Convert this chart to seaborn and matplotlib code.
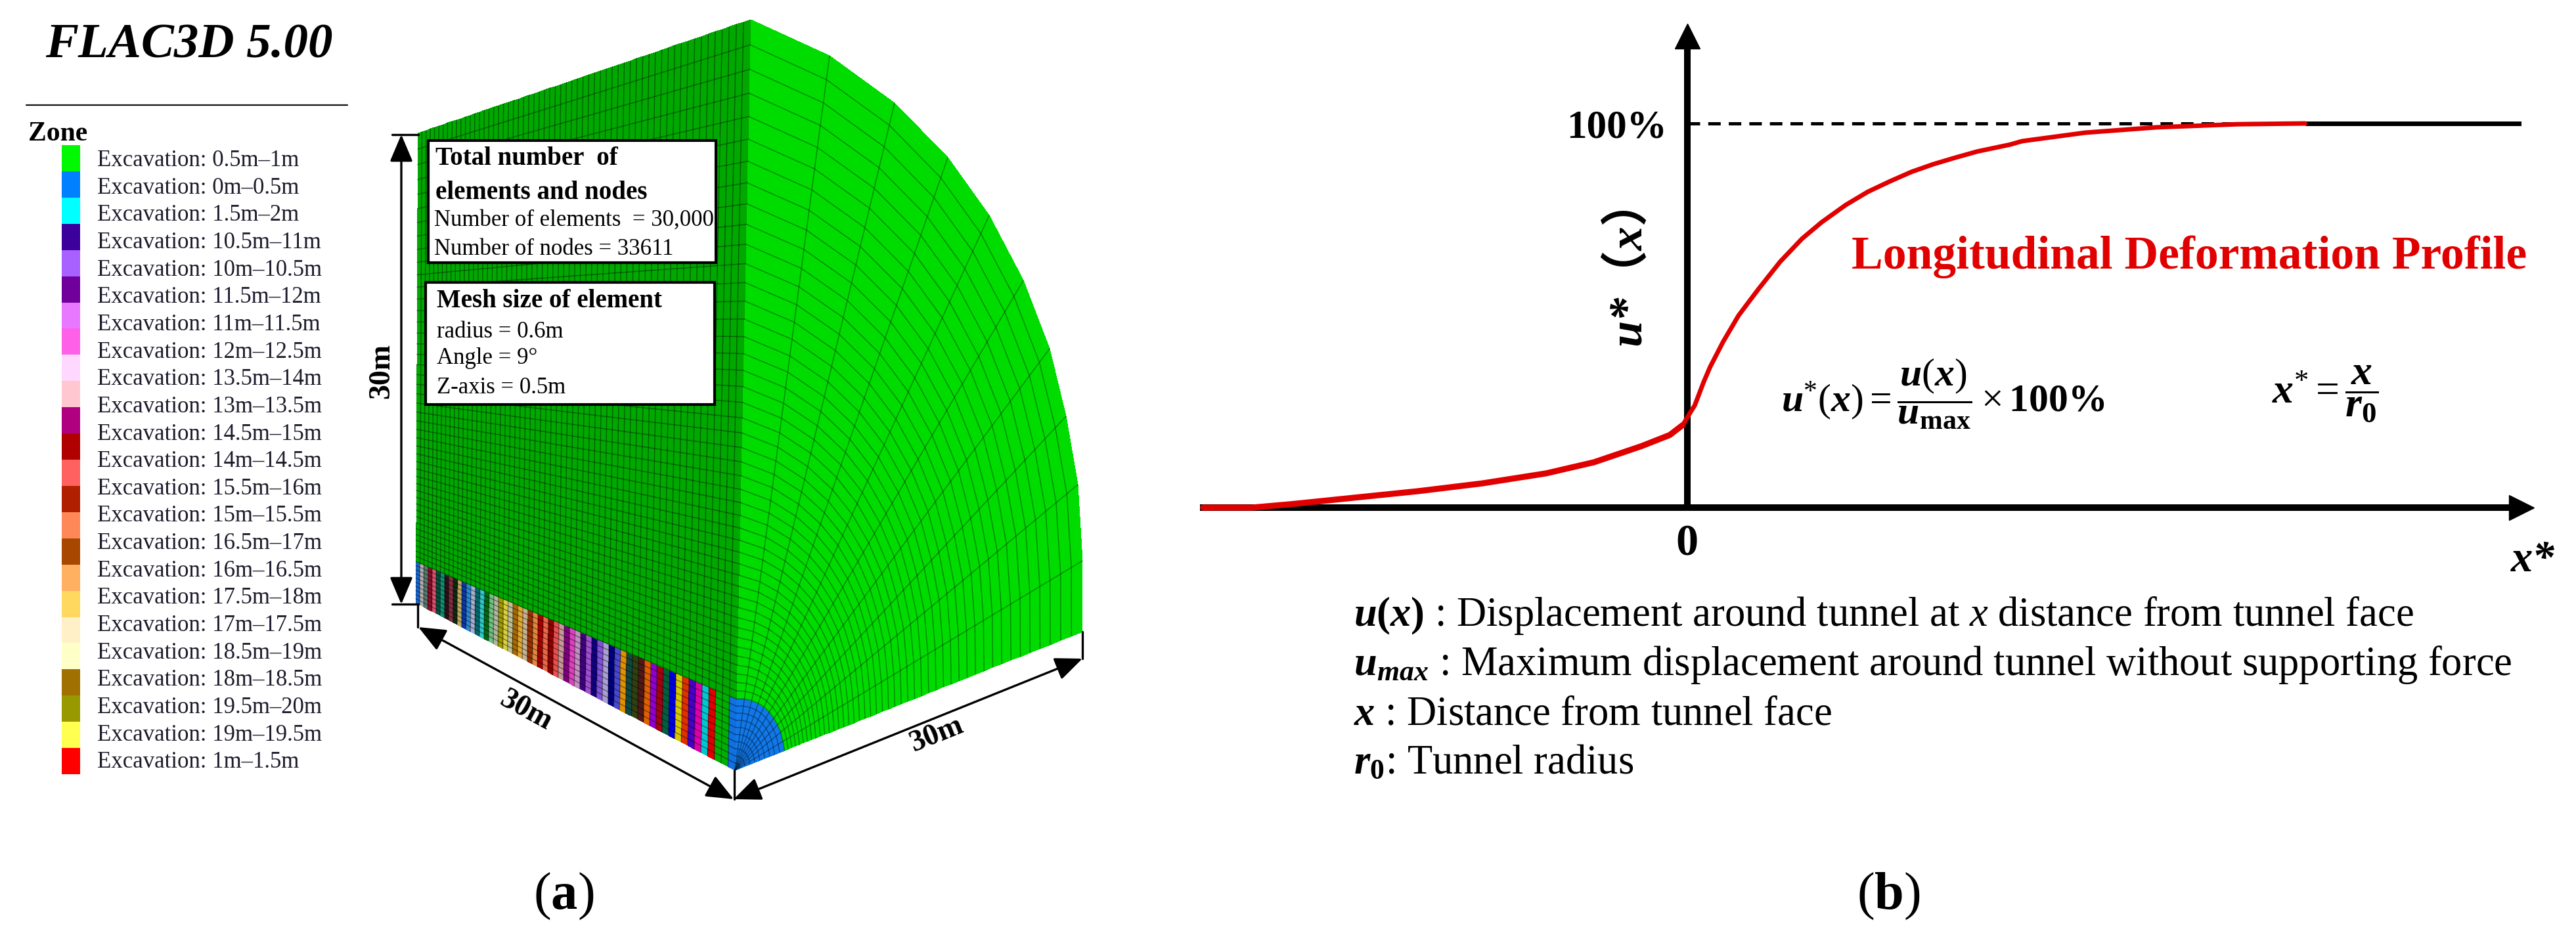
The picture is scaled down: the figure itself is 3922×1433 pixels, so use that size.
import numpy as np
import seaborn as sns
import matplotlib.pyplot as plt
from matplotlib.colors import ListedColormap

W, H = 3923, 1433

# legend of panel a
zone_colors = ['#00f800', '#0080ff', '#00ffff', '#3c009c', '#a860ff', '#70009c', '#e878ff', '#ff60e8',
               '#ffd8ff', '#ffc8d0', '#b00080', '#b00000', '#ff6060', '#b02000', '#ff8858', '#a84800',
               '#ffb060', '#ffd860', '#fff0c8', '#ffffc8', '#a07000', '#989800', '#ffff50', '#ff0000']
zone_labels = ['0.5m–1m', '0m–0.5m', '1.5m–2m', '10.5m–11m', '10m–10.5m', '11.5m–12m', '11m–11.5m', '12m–12.5m',
               '13.5m–14m', '13m–13.5m', '14.5m–15m', '14m–14.5m', '15.5m–16m', '15m–15.5m', '16.5m–17m',
               '16m–16.5m', '17.5m–18m', '17m–17.5m', '18.5m–19m', '18m–18.5m', '19.5m–20m', '19m–19.5m', '1m–1.5m']

# excavation bands along the tunnel wall, far end to tunnel face
band_colors = ['#1a66c8', '#b0b0b0', '#5a7a70', '#8a0f2a', '#e0506a', '#005040', '#109070', '#301018',
               '#803040', '#0f2a10', '#c0a860', '#0a3aa8', '#2a8ad8', '#a8b0cc', '#006a70', '#30c8c8',
               '#006a10', '#70c080', '#b0b8a0', '#a09a00', '#d8d040', '#c0c090', '#a86a00', '#e0a830',
               '#c8b090', '#983000', '#e08840', '#a80000', '#e86848', '#900000', '#e85050', '#c89898',
               '#800080', '#e040c0', '#c090c0', '#400080', '#a050d0', '#100080', '#8050d8', '#a8a0d0',
               '#000080', '#4848d0', '#e09000', '#104840', '#304010', '#501818', '#e06000', '#9000d0',
               '#a80010', '#006040', '#0000e0', '#d8c800', '#e03000', '#4800c8', '#e000a8', '#00c8d0',
               '#e00000', '#00b000', '#00b000', '#1070e0']

# outer edge of the model face, one vertex per 9 degree sector
arc_x = [1648, 1648, 1641, 1623, 1598, 1558, 1506, 1443, 1362, 1263, 1143]
arc_y = [962, 854, 738, 634, 531, 427, 328, 240, 157, 85, 30]

# longitudinal deformation profile
ldp_x = [-5.39, -4.85, -4.41, -3.70, -2.99, -2.285, -1.575, -1.04, -0.51, -0.195, -0.05, 0.037, 0.083, 0.181, 0.254,
         0.40, 0.571, 0.79, 1.034, 1.278, 1.497, 1.766, 2.01, 2.254, 2.497, 2.741, 2.985, 3.229, 3.595, 3.73, 4.43,
         5.23, 6.13, 6.88]
ldp_y = [0, 0, 0.9, 2.6, 4.3, 6.3, 8.9, 11.8, 16.0, 18.9, 21.5, 24.9, 26.6, 32.6, 36.6,
         43.2, 50.0, 56.8, 64.0, 70.0, 74.3, 78.8, 82.2, 84.9, 87.4, 89.4, 91.1, 92.7, 94.5, 95.4, 97.6,
         99.0, 99.8, 100]

sns.set_style('white')
plt.rcParams['font.family'] = ['Liberation Serif', 'Noto Sans CJK SC']
plt.rcParams['text.color'] = 'black'
plt.rcParams['axes.edgecolor'] = 'black'
plt.rcParams['xtick.color'] = 'black'
plt.rcParams['ytick.color'] = 'black'
plt.rcParams['mathtext.fontset'] = 'custom'
plt.rcParams['mathtext.rm'] = 'Liberation Serif'
plt.rcParams['mathtext.it'] = 'Liberation Serif:italic'
plt.rcParams['mathtext.bf'] = 'Liberation Serif:bold'
plt.rcParams['mathtext.bfit'] = 'Liberation Serif:italic:bold'


def px_axes(left, top, right, bottom, **kw):
    return fig.add_axes([left / W, 1 - bottom / H, (right - left) / W, (bottom - top) / H], **kw)


fig = plt.figure(figsize=(W / 100, H / 100), dpi=100, facecolor='white')

# whole figure in pixels, for the mesh drawing and the loose labels
ax = px_axes(0, 0, W, H)
ax.set_xlim(0, W)
ax.set_ylim(H, 0)
ax.axis('off')

# ---------- panel a: title and legend ----------
ax.text(69, 87, 'FLAC3D 5.00', fontsize=54, fontweight='bold', fontstyle='italic', va='baseline')
ax.plot([40, 529], [160, 160], color='#111111', lw=1.6)
ax.text(43, 214, 'Zone', fontsize=30, fontweight='bold', va='baseline')

ax_sw = px_axes(94.5, 221, 122, 1179)
sns.heatmap(np.arange(len(zone_colors)).reshape(-1, 1), cmap=ListedColormap(zone_colors), cbar=False,
            xticklabels=False, yticklabels=False, ax=ax_sw)

for i, lab in enumerate(zone_labels):
    ax.text(148.5, 253 + i * 41.65, 'Excavation: ' + lab, fontsize=25, color='#1c1c2c', va='baseline')

# ---------- panel a: mesh ----------
cx, cy = 1119, 1173
n_sect = len(arc_x) - 1
n_tun, n_out = 10, 45

# ring spacing widens outward
grow = np.cumsum(1.026 ** np.arange(n_out))
ring_t = np.r_[0, grow / grow[-1]]
tun_t = np.linspace(0, 1, n_tun + 1)

# tunnel boundary as fraction of the spoke, shrinks toward the ridge from perspective
tb = np.linspace(0.143, 0.095, n_sect + 1)
s = np.zeros((n_sect + 1, n_tun + n_out + 1))
for k in range(n_sect + 1):
    s[k] = np.r_[tun_t[:-1] * tb[k], tb[k] + (1 - tb[k]) * ring_t]
fx = cx + s * (np.array(arc_x)[:, None] - cx)
fy = cy + s * (np.array(arc_y)[:, None] - cy)
fz = np.zeros((n_sect, n_tun + n_out))
fz[:, :n_tun] = 1
ax.pcolormesh(fx, fy, fz, cmap=ListedColormap(['#00dc00', '#1078e8']), vmin=0, vmax=1, zorder=2)
# only the inner mesh lines, the outline of the face stays clean
ax.plot(fx[:, 1:-1], fy[:, 1:-1], color='black', alpha=0.36, lw=1.1, zorder=2.1)
ax.plot(fx[1:-1, :].T, fy[1:-1, :].T, color='black', alpha=0.36, lw=1.1, zorder=2.1)

# side wall shares its rows with the ridge of the face
n_col = len(band_colors)
col = np.cumsum(np.r_[0, 1.0095 ** np.arange(n_col)])
col = col / col[-1]
ridge = s[-1]
left_t = np.r_[np.linspace(0, 63 / 715, n_tun + 1)[:-1], 63 / 715 + (1 - 63 / 715) * ring_t]
left_x = 633 + 3 * left_t
left_y = 918 - 715 * left_t
right_x = cx + (arc_x[-1] - cx) * ridge
right_y = cy + (arc_y[-1] - cy) * ridge
wx = left_x[None, :] + col[:, None] * (right_x - left_x)[None, :]
wy = left_y[None, :] + col[:, None] * (right_y - left_y)[None, :]
wz = np.full((n_col, n_tun + n_out), n_col)
wz[:, :n_tun] = np.arange(n_col)[:, None]
ax.pcolormesh(wx, wy, wz, cmap=ListedColormap(band_colors + ['#00a800']), vmin=-0.5, vmax=n_col + 0.5, zorder=2)
ax.plot(wx[:, 1:-1], wy[:, 1:-1], color='black', alpha=0.42, lw=1.0, zorder=2.1)
ax.plot(wx[1:-1, :].T, wy[1:-1, :].T, color='black', alpha=0.42, lw=1.0, zorder=2.1)

# ---------- panel a: dimensions ----------
dim_style = dict(arrowstyle='<|-|>,head_length=0.85,head_width=0.36', color='black', lw=2.4, shrinkA=0, shrinkB=0,
                 mutation_scale=30)
for a, b in [((611, 205), (611, 920)), ((637, 955), (1117, 1217)), ((1117, 1217), (1648, 1003))]:
    ax.annotate('', xy=a, xytext=b, arrowprops=dim_style, zorder=4)
for xs, ys in [((597, 637), (205, 205)), ((597, 637), (920, 920)), ((636, 636), (920, 955)),
               ((1118, 1118), (1173, 1217)), ((1648, 1648), (962, 1003))]:
    ax.plot(xs, ys, color='black', lw=2.4, zorder=4)
for tx, ty, rot in [(581, 565, 90), (800, 1082, -28.6), (1426, 1119, 22)]:
    ax.text(tx, ty, '30m', fontsize=33, fontweight='bold', rotation=rot, rotation_mode='anchor',
            ha='center', va='center')

# ---------- panel a: info boxes ----------
for l, t, r, b in [(652, 214, 1090, 400), (648, 430, 1088, 616)]:
    ax.fill([l, r, r, l], [t, t, b, b], facecolor='white', edgecolor='black', lw=3, zorder=5)
box_lines = [(663, 251, 'Total number  of', 'bold'), (663, 303, 'elements and nodes', 'bold'),
             (661, 344, 'Number of elements  = 30,000', 'normal'), (661, 388, 'Number of nodes = 33611', 'normal'),
             (665, 468, 'Mesh size of element', 'bold'), (665, 514, 'radius = 0.6m', 'normal'),
             (665, 554, 'Angle = 9°', 'normal'), (665, 599, 'Z-axis = 0.5m', 'normal')]
for tx, ty, txt, weight in box_lines:
    ax.text(tx, ty, txt, fontsize=28 if weight == 'bold' else 25, fontweight=weight, va='baseline', zorder=6)

ax.text(858, 1365, r'($\mathbf{a}$)', fontsize=58, ha='center', va='center')
ax.text(2875, 1365, r'($\mathbf{b}$)', fontsize=58, ha='center', va='center')

# ---------- panel b ----------
ax_b = px_axes(1832, 55, 3839, 773, zorder=3)
ax_b.patch.set_alpha(0)
ax_b.set_xlim(-5.39, 9.29)
ax_b.set_ylim(0, 718 / 5.85)
sns.despine(ax=ax_b, top=True, right=True)
ax_b.spines['left'].set_position(('data', 0))
ax_b.spines['left'].set_linewidth(7.2)
ax_b.spines['bottom'].set_linewidth(7.2)
ax_b.set_xticks([0], ['0'], fontsize=49, fontweight='bold')
ax_b.set_yticks([100], ['100%'], fontsize=44, fontweight='bold')
ax_b.tick_params(axis='both', length=0)
ax_b.tick_params(axis='x', pad=18)
ax_b.tick_params(axis='y', pad=22)

ax_b.plot(0, 1, marker='^', ms=27, color='black', transform=ax_b.get_xaxis_transform(), clip_on=False)
ax_b.plot(1, 0, marker='>', ms=27, color='black', transform=ax_b.get_yaxis_transform(), clip_on=False)
ax_b.plot([0, 6.13], [100, 100], color='black', lw=3.6, ls=(0, (3.8, 2.46)), dash_capstyle='butt')
ax_b.plot([6.88, 9.29], [100, 100], color='black', lw=5, solid_capstyle='butt')
# tail of the curve is a bit heavier than the rising part
split = 10
sns.lineplot(x=ldp_x[:split + 1], y=ldp_y[:split + 1], color='#e00000', lw=6.6, ax=ax_b, clip_on=False, zorder=5,
             sort=False)
sns.lineplot(x=ldp_x[split:], y=ldp_y[split:], color='#e00000', lw=5.0, ax=ax_b, clip_on=False, zorder=5, sort=False)

ax.text(3823, 870, 'x*', fontsize=48, fontweight='bold', fontstyle='italic', va='baseline')
ax.text(2477, 398, 'u*（x）', fontsize=52, fontweight='bold', fontstyle='italic', rotation=90,
        ha='center', va='center')
ax.text(2819, 409, 'Longitudinal Deformation Profile', fontsize=51.5, fontweight='bold', color='#e00000', va='baseline')
ax.text(2958, 600, r'$\mathbfit{u}^{*}\mathrm{(}\mathbfit{x}\mathrm{)}=\dfrac{\mathbfit{u}\mathrm{(}\mathbfit{x}\mathrm{)}}'
        r'{\mathbfit{u}_{\mathbf{max}}}\times\mathbf{100\%}$', fontsize=43, ha='center', va='center')
ax.text(3540, 600, r'$\mathbfit{x}^{*}=\dfrac{\mathbfit{x}}{\mathbfit{r}_{\mathbf{0}}}$', fontsize=46,
        ha='center', va='center')

notes = [r'$\mathbfit{u}\mathbf{(}\mathbfit{x}\mathbf{)}$ : Displacement around tunnel at $\mathit{x}$ distance from tunnel face',
         r'$\mathbfit{u}_{\mathbfit{max}}$ : Maximum displacement around tunnel without supporting force',
         r'$\mathbfit{x}$ : Distance from tunnel face',
         r'$\mathbfit{r}_{\mathbf{0}}$: Tunnel radius']
for i, txt in enumerate(notes):
    ax.text(2061, 953 + i * 75, txt, fontsize=45, va='baseline')

fig.savefig('out.png', dpi=100)
